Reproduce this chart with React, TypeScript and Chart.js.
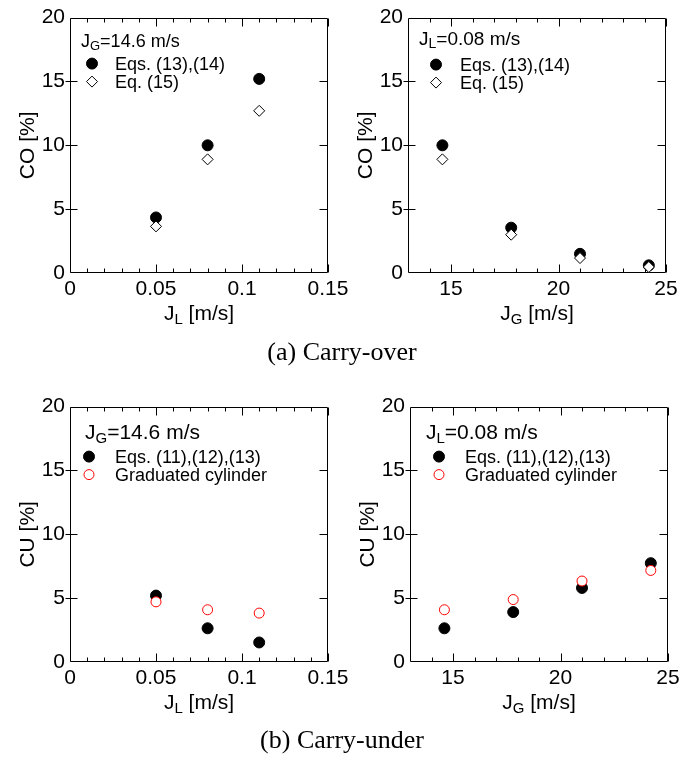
import React, { useEffect, useRef } from 'react';
import { Chart, registerables } from 'chart.js';

Chart.register(...registerables);

// ---------- data ----------
const jlValues = [0.05, 0.08, 0.11];
const jgValues = [14.6, 17.8, 21.0, 24.2];

const coEqsVsJL = [4.35, 10.0, 15.2];
const coEq15VsJL = [3.65, 8.9, 12.7];
const coEqsVsJG = [10.0, 3.55, 1.5, 0.6];
const coEq15VsJG = [8.9, 3.0, 1.17, 0.47];

const cuEqsVsJL = [5.2, 2.64, 1.53];
const cuCylVsJL = [4.71, 4.09, 3.83];
const cuEqsVsJG = [2.64, 3.91, 5.8, 7.74];
const cuCylVsJG = [4.09, 4.89, 6.34, 7.17];

const legendCO = ['Eqs. (13),(14)', 'Eq. (15)'];
const legendCU = ['Eqs. (11),(12),(13)', 'Graduated cylinder'];

const yTickValues = [0, 5, 10, 15, 20];
const yMajorInner = [5, 10, 15];
const jlTickValues = [0, 0.05, 0.1, 0.15];
const jlMinorTicks = [0.01, 0.02, 0.03, 0.04, 0.06, 0.07, 0.08, 0.09, 0.11, 0.12, 0.13, 0.14];
const jgTickValues = [15, 20, 25];
const jgMinorTicks = [14, 16, 17, 18, 19, 21, 22, 23, 24];

const captionA = '(a) Carry-over';
const captionB = '(b) Carry-under';

// ---------- style ----------
const SANS = '"Liberation Sans", Arial, Helvetica, sans-serif';
const SERIF = '"Liberation Serif", "Times New Roman", serif';
const Y_AXIS_W = 70;
const PAD_TOP = 16;
const PAD_RIGHT = 25;
const PLOT_W = 258;
const PLOT_H = 257;
const X_AXIS_H = 87;
const CANVAS_W = Y_AXIS_W + PLOT_W + PAD_RIGHT;
const CANVAS_H = PAD_TOP + PLOT_H + X_AXIS_H;

type Parts = [string, string, string];

type PanelCfg = {
  plotLeft: number;
  plotTop: number;
  xMin: number;
  xMax: number;
  xTicks: number[];
  xMinor: number[];
  xs: number[];
  solid: number[];
  open: number[];
  openKind: 'diamond' | 'red';
  yTitle: string;
  xTitle: Parts;
  note: Parts;
  noteSize: number;
  legend: string[];
  noteDx: number;
  noteDy: number;
  markDx: number;
  textDx: number;
  row1Dy: number;
  row2Dy: number;
};

const panels: PanelCfg[] = [
  {
    plotLeft: 70, plotTop: 16, xMin: 0, xMax: 0.15, xTicks: jlTickValues, xMinor: jlMinorTicks,
    xs: jlValues, solid: coEqsVsJL, open: coEq15VsJL, openKind: 'diamond',
    yTitle: 'CO [%]', xTitle: ['J', 'L', ' [m/s]'], note: ['J', 'G', '=14.6 m/s'], noteSize: 18,
    legend: legendCO, noteDx: 11, noteDy: 29, markDx: 22, textDx: 45, row1Dy: 46, row2Dy: 64,
  },
  {
    plotLeft: 408, plotTop: 16, xMin: 13, xMax: 25, xTicks: jgTickValues, xMinor: jgMinorTicks,
    xs: jgValues, solid: coEqsVsJG, open: coEq15VsJG, openKind: 'diamond',
    yTitle: 'CO [%]', xTitle: ['J', 'G', ' [m/s]'], note: ['J', 'L', '=0.08 m/s'], noteSize: 19,
    legend: legendCO, noteDx: 11, noteDy: 27, markDx: 28, textDx: 52, row1Dy: 47, row2Dy: 65,
  },
  {
    plotLeft: 70, plotTop: 405, xMin: 0, xMax: 0.15, xTicks: jlTickValues, xMinor: jlMinorTicks,
    xs: jlValues, solid: cuEqsVsJL, open: cuCylVsJL, openKind: 'red',
    yTitle: 'CU [%]', xTitle: ['J', 'L', ' [m/s]'], note: ['J', 'G', '=14.6 m/s'], noteSize: 21,
    legend: legendCU, noteDx: 15, noteDy: 32, markDx: 19, textDx: 45, row1Dy: 50, row2Dy: 68,
  },
  {
    plotLeft: 410, plotTop: 405, xMin: 13, xMax: 25, xTicks: jgTickValues, xMinor: jgMinorTicks,
    xs: jgValues, solid: cuEqsVsJG, open: cuCylVsJG, openKind: 'red',
    yTitle: 'CU [%]', xTitle: ['J', 'G', ' [m/s]'], note: ['J', 'L', '=0.08 m/s'], noteSize: 21,
    legend: legendCU, noteDx: 16, noteDy: 32, markDx: 29, textDx: 55, row1Dy: 50, row2Dy: 68,
  },
];

function drawSubText(ctx: CanvasRenderingContext2D, x: number, y: number, parts: Parts, size: number, center: boolean) {
  const [a, b, c] = parts;
  const subSize = Math.round(size * 0.72);
  const mainFont = `${size}px ${SANS}`;
  const subFont = `${subSize}px ${SANS}`;
  ctx.font = mainFont;
  const wa = ctx.measureText(a).width;
  const wc = ctx.measureText(c).width;
  ctx.font = subFont;
  const wb = ctx.measureText(b).width;
  const total = wa + wb + wc;
  const x0 = center ? x - total / 2 : x;
  ctx.textAlign = 'left';
  ctx.textBaseline = 'alphabetic';
  ctx.fillStyle = '#000';
  ctx.font = mainFont;
  ctx.fillText(a, x0, y);
  ctx.font = subFont;
  ctx.fillText(b, x0 + wa, y + size * 0.2);
  ctx.font = mainFont;
  ctx.fillText(c, x0 + wa + wb, y);
}

function drawMarker(ctx: CanvasRenderingContext2D, kind: 'solid' | 'diamond' | 'red', x: number, y: number) {
  ctx.save();
  ctx.beginPath();
  if (kind === 'solid') {
    ctx.arc(x, y, 5.5, 0, Math.PI * 2);
    ctx.fillStyle = '#000';
    ctx.fill();
    ctx.lineWidth = 1;
    ctx.strokeStyle = '#000';
    ctx.stroke();
  } else if (kind === 'diamond') {
    const r = 5.5;
    ctx.moveTo(x - r, y);
    ctx.lineTo(x, y - r);
    ctx.lineTo(x + r, y);
    ctx.lineTo(x, y + r);
    ctx.closePath();
    ctx.fillStyle = '#fff';
    ctx.fill();
    ctx.lineWidth = 1;
    ctx.strokeStyle = '#000';
    ctx.stroke();
  } else {
    ctx.arc(x, y, 5, 0, Math.PI * 2);
    ctx.fillStyle = '#fff';
    ctx.fill();
    ctx.lineWidth = 1;
    ctx.strokeStyle = '#ff0000';
    ctx.stroke();
  }
  ctx.restore();
}

function makeDecor(cfg: PanelCfg) {
  return {
    id: 'decor',
    beforeDatasetsDraw(chart: any) {
      const { ctx, chartArea: a, scales } = chart;
      const xs = scales.x;
      const ys = scales.y;
      const L = Math.round(a.left) + 0.5;
      const R = Math.round(a.right) - 0.5;
      const T = Math.round(a.top) + 0.5;
      const B = Math.round(a.bottom) - 0.5;
      ctx.save();
      ctx.strokeStyle = '#000';
      ctx.lineWidth = 1;
      ctx.beginPath();
      ctx.rect(L, T, R - L, B - T);
      // x major ticks (inward, top & bottom)
      cfg.xTicks.forEach((v) => {
        const px = Math.round(xs.getPixelForValue(v)) + 0.5;
        ctx.moveTo(px, B);
        ctx.lineTo(px, B - 8);
        ctx.moveTo(px, T);
        ctx.lineTo(px, T + 8);
      });
      cfg.xMinor.forEach((v) => {
        const px = Math.round(xs.getPixelForValue(v)) + 0.5;
        ctx.moveTo(px, B);
        ctx.lineTo(px, B - 4);
        ctx.moveTo(px, T);
        ctx.lineTo(px, T + 4);
      });
      yMajorInner.forEach((v) => {
        const py = Math.round(ys.getPixelForValue(v)) + 0.5;
        ctx.moveTo(L - 5, py);
        ctx.lineTo(L + 7, py);
        ctx.moveTo(R, py);
        ctx.lineTo(R - 8, py);
      });
      ctx.stroke();

      // axis titles
      drawSubText(ctx, (a.left + a.right) / 2, a.bottom + 47, cfg.xTitle, 21, true);
      ctx.save();
      ctx.translate(a.left - 42, (a.top + a.bottom) / 2);
      ctx.rotate(-Math.PI / 2);
      ctx.font = `21px ${SANS}`;
      ctx.fillStyle = '#000';
      ctx.textAlign = 'center';
      ctx.textBaseline = 'middle';
      ctx.fillText(cfg.yTitle, 0, 0);
      ctx.restore();

      // annotation
      drawSubText(ctx, a.left + cfg.noteDx, a.top + cfg.noteDy, cfg.note, cfg.noteSize, false);

      // legend
      const rows = [cfg.row1Dy, cfg.row2Dy];
      const kinds: ('solid' | 'diamond' | 'red')[] = ['solid', cfg.openKind];
      rows.forEach((dy, i) => {
        drawMarker(ctx, kinds[i], a.left + cfg.markDx, a.top + dy);
        ctx.font = `18px ${SANS}`;
        ctx.fillStyle = '#000';
        ctx.textAlign = 'left';
        ctx.textBaseline = 'middle';
        ctx.fillText(cfg.legend[i], a.left + cfg.textDx, a.top + dy + 1);
      });
      ctx.restore();
    },
  };
}

function Panel({ cfg }: { cfg: PanelCfg }) {
  const ref = useRef<HTMLCanvasElement | null>(null);
  useEffect(() => {
    if (!ref.current) return;
    const openDs =
      cfg.openKind === 'diamond'
        ? {
            pointStyle: 'rectRot',
            pointRadius: 5.5,
            backgroundColor: '#ffffff',
            borderColor: '#000000',
            borderWidth: 1,
          }
        : {
            pointStyle: 'circle',
            pointRadius: 5,
            backgroundColor: '#ffffff',
            borderColor: '#ff0000',
            borderWidth: 1,
          };
    const tickFont = { family: SANS, size: 21 };
    const chart = new Chart(ref.current, {
      type: 'scatter',
      data: {
        datasets: [
          {
            label: cfg.legend[1],
            data: cfg.xs.map((x, i) => ({ x, y: cfg.open[i] })),
            order: 0,
            showLine: false,
            ...openDs,
          } as any,
          {
            label: cfg.legend[0],
            data: cfg.xs.map((x, i) => ({ x, y: cfg.solid[i] })),
            order: 1,
            showLine: false,
            pointStyle: 'circle',
            pointRadius: 5.5,
            backgroundColor: '#000000',
            borderColor: '#000000',
            borderWidth: 1,
          },
        ],
      },
      options: {
        responsive: false,
        animation: false,
        devicePixelRatio: 1,
        events: [],
        layout: { padding: { top: PAD_TOP, right: PAD_RIGHT, left: 0, bottom: 0 } },
        plugins: { legend: { display: false }, tooltip: { enabled: false } },
        scales: {
          x: {
            type: 'linear',
            min: cfg.xMin,
            max: cfg.xMax,
            grid: { display: false, drawTicks: false },
            border: { display: false },
            afterFit: (s: any) => {
              s.height = X_AXIS_H;
            },
            afterBuildTicks: (s: any) => {
              s.ticks = cfg.xTicks.map((v) => ({ value: v }));
            },
            ticks: {
              autoSkip: false,
              maxRotation: 0,
              padding: 4,
              color: '#000',
              font: tickFont,
              callback: (v: any) => String(v),
            },
          },
          y: {
            type: 'linear',
            min: 0,
            max: 20,
            grid: { display: false, drawTicks: false },
            border: { display: false },
            afterFit: (s: any) => {
              s.width = Y_AXIS_W;
            },
            afterBuildTicks: (s: any) => {
              s.ticks = yTickValues.map((v) => ({ value: v }));
            },
            ticks: {
              autoSkip: false,
              padding: 5,
              color: '#000',
              font: tickFont,
              callback: (v: any) => String(v),
            },
          },
        },
      } as any,
      plugins: [makeDecor(cfg)],
    });
    return () => chart.destroy();
  }, [cfg]);
  return (
    <canvas
      ref={ref}
      width={CANVAS_W}
      height={CANVAS_H}
      style={{
        position: 'absolute',
        left: cfg.plotLeft - Y_AXIS_W,
        top: cfg.plotTop - PAD_TOP,
        width: CANVAS_W,
        height: CANVAS_H,
      }}
    />
  );
}

const captionStyle: React.CSSProperties = {
  position: 'absolute',
  left: 0,
  width: 684,
  textAlign: 'center',
  fontFamily: SERIF,
  fontSize: 26,
  lineHeight: '26px',
  color: '#000',
  whiteSpace: 'nowrap',
};

export default function App() {
  return (
    <div style={{ position: 'absolute', left: 0, top: 0, width: 694, height: 757, background: '#fff', overflow: 'hidden' }}>
      {panels.map((p, i) => (
        <Panel key={i} cfg={p} />
      ))}
      <div style={{ ...captionStyle, top: 339 }}>{captionA}</div>
      <div style={{ ...captionStyle, top: 727 }}>{captionB}</div>
    </div>
  );
}
